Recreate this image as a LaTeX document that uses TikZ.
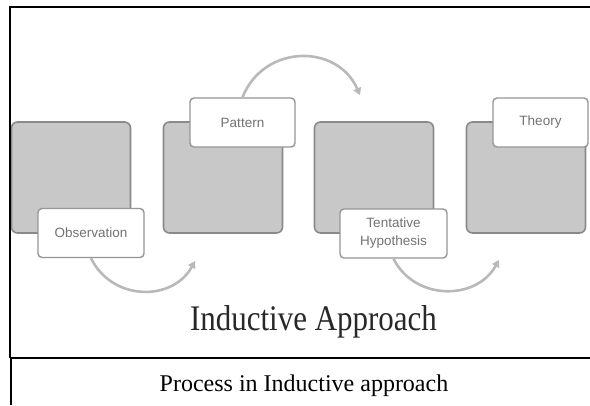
\documentclass[tikz,border=0pt]{standalone}
\usepackage{fontspec}
\setmainfont{Liberation Serif}
\newfontfamily\lblfont{Liberation Sans}
\usetikzlibrary{arrows.meta,calc}
\definecolor{boxfill}{RGB}{200,200,200}
\definecolor{boxedge}{RGB}{138,138,138}
\definecolor{lbledge}{RGB}{150,150,150}
\definecolor{lbltext}{RGB}{115,115,115}
\definecolor{arcgray}{RGB}{185,185,185}
\definecolor{titlegray}{RGB}{40,40,40}
\begin{document}
\begin{tikzpicture}[x=1pt,y=-1pt,
  bigbox/.style={draw=boxedge, fill=boxfill, line width=1.6pt, rounded corners=6pt,
    minimum width=119pt, minimum height=111pt, inner sep=0pt},
  lblbox/.style={draw=lbledge, fill=white, line width=1.4pt, rounded corners=4pt,
    font=\lblfont\fontsize{13.5}{18}\selectfont, text=lbltext, align=center,
    minimum height=49pt, inner sep=0pt},
  flow/.style={draw=arcgray, line width=2.6pt, -{Triangle[length=7pt,width=8pt]}},
  frameline/.style={draw=black}]
\useasboundingbox[fill=white] (0,0) rectangle (590,405);
% big grey boxes
\node[bigbox] (b1) at (71,177.5) {};
\node[bigbox] (b2) at (223,177.5) {};
\node[bigbox] (b3) at (374,177.5) {};
\node[bigbox] (b4) at (526,177.5) {};
% label boxes
\node[lblbox, minimum width=106pt] (obs) at (91,233) {Observation};
\node[lblbox, minimum width=105pt] (pat) at (242.5,122.5) {Pattern};
\node[lblbox, minimum width=107pt] (hyp) at (393.5,233.5) {Tentative\\Hypothesis};
\node[lblbox, minimum width=95pt] (theo) at (540.5,122.5) {Theory};
% arc end points
\coordinate (e1) at (360,95);
\coordinate (e2) at (195,261);
\coordinate (e3) at (499,260);
% connectors
\draw[flow] (pat.north) .. controls ($(pat.north)+(21,-53)$) and ($(e1)+(-23,-52)$) .. (e1);
\draw[flow] (obs.south) .. controls ($(obs.south)+(21,43)$) and ($(e2)+(-22.5,41)$) .. (e2);
\draw[flow] (hyp.south) .. controls ($(hyp.south)+(21,42)$) and ($(e3)+(-23,41)$) .. (e3);
% titles
\node[font=\fontsize{36}{40}\selectfont, text=titlegray, anchor=base, xscale=0.86] (title) at (313.5,330) {Inductive Approach};
\node[font=\fontsize{24}{28}\selectfont, anchor=base] (caption) at (304,391) {Process in Inductive approach};
% frame
\draw[frameline, line width=2pt] (9,7) -- (590,7);
\draw[frameline, line width=2pt] (10,6) -- (10,358);
\draw[frameline, line width=1.2pt] (11,358) -- (11,405);
\draw[frameline, line width=1.4pt] (10,358) -- (590,358);
\end{tikzpicture}
\end{document}
